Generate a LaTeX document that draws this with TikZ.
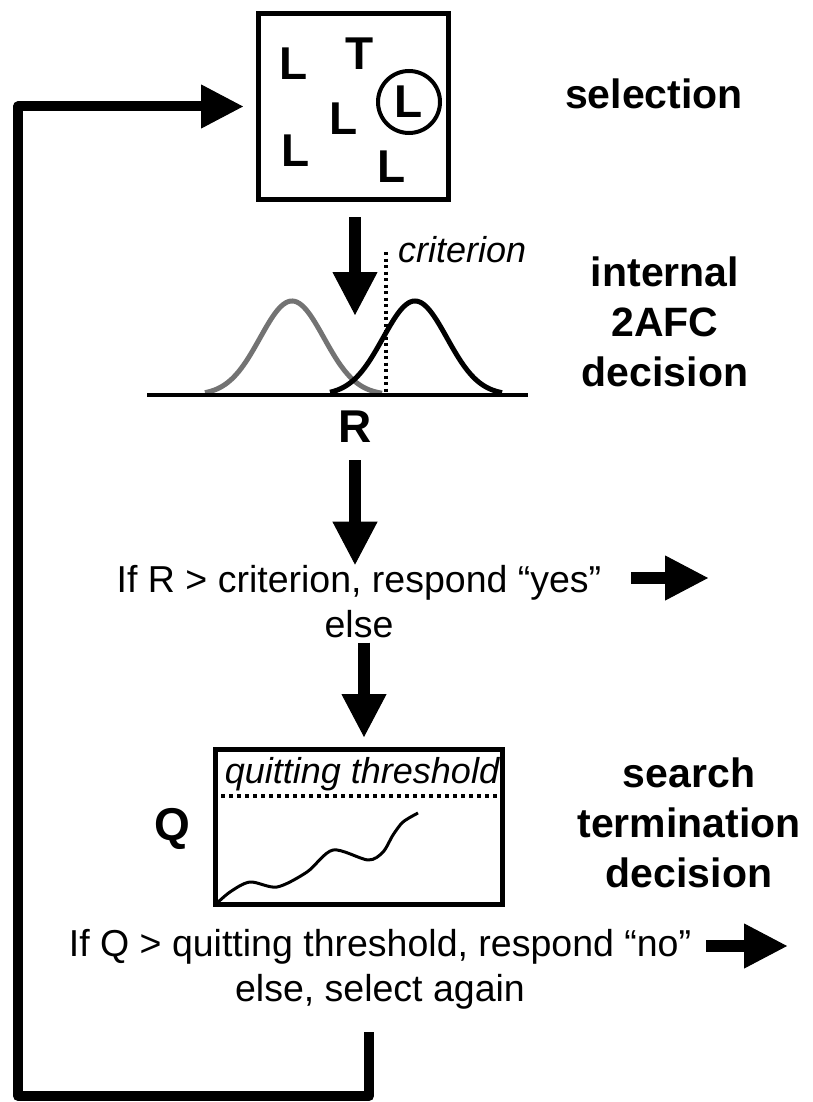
\documentclass[tikz,border=0pt]{standalone}
\usepackage{fontspec}
\setmainfont{Liberation Sans}
\usetikzlibrary{arrows.meta, positioning}

\newcommand{\markfont}{\fontsize{46}{50}\selectfont\bfseries}
\newcommand{\stagefont}{\fontsize{41}{50}\selectfont\bfseries}
\newcommand{\rulefont}{\fontsize{37.5}{45}\selectfont}
\newcommand{\notefont}{\fontsize{36}{40}\selectfont\itshape}

\begin{document}
\begin{tikzpicture}[
  x=1pt, y=-1pt,
  frame/.style={draw, line width=5pt, inner sep=0pt},
  letter/.style={inner sep=0pt, font=\markfont},
  stage/.style={align=center, inner sep=0pt, anchor=base, font=\stagefont},
  rule/.style={align=center, inner sep=0pt, anchor=base, font=\rulefont},
  note/.style={inner sep=0pt, anchor=base west, font=\notefont},
  flow/.style={line width=12pt, -{Triangle[length=43pt, width=45pt, line width=1pt]}},
  loopline/.style={line width=10pt, line join=round, -{Triangle[length=42pt, width=44pt, line width=1pt]}},
  dots/.style={line width=3.5pt, dash pattern=on 3pt off 3.5pt}
]
  \useasboundingbox (0,0) rectangle (812,1102);

  \node[frame, minimum width=190pt, minimum height=186pt] (sel) at (353.5,106.5) {};
  \node[letter] (l1) at (294,64) {L};
  \node[letter] (t1) at (360,54) {T};
  \node[letter, draw, circle, line width=4pt, minimum size=62pt] (pick) at (409,102) {L};
  \node[letter] (l3) at (344,119) {L};
  \node[letter] (l4) at (296,151) {L};
  \node[letter] (l5) at (392,167) {L};
  \node[stage] (sellab) at (654,109) {selection};

  \draw[line width=5pt, black!55, domain=205:382, samples=80] plot (\x, {395-94*exp(((\x-292)^2)/(-2048))});
  \draw[line width=5pt, domain=330:502, samples=80] plot (\x, {395-94*exp(((\x-415)^2)/(-2048))});
  \draw[dots] (386,252) -- (386,395);
  \draw[line width=4.5pt] (147,395) -- (528,395);
  \node[note] (crit) at (398,262) {criterion};
  \coordinate (dist) at (355,315);
  \draw[flow, shorten <=15pt] (sel.south -| dist) -- (dist);
  \node[stage] (declab) at (665,386) {internal\\2AFC\\decision};
  \node[letter] (R) at (355,427) {R};

  \node[rule] (yesrule) at (359,637) {If R > criterion, respond “yes”\\else};
  \draw[flow, shorten <=17pt] (R.south) -- (R.south |- yesrule.north);
  \coordinate (yes) at (708,578);
  \draw[flow] ([xshift=30pt]yesrule.east |- yes) -- (yes);

  \node[frame, minimum width=287pt, minimum height=155pt] (qbox) at (359,827) {};
  \coordinate (thr) at (0,796);
  \draw[dots, line width=4pt, dash pattern=on 3.5pt off 4.5pt] (qbox.west |- thr) -- (qbox.east |- thr);
  \node[note, anchor=base] (thrlab) at (362,783) {quitting threshold};
  \draw[line width=3pt, line join=round] plot[smooth, tension=0.5] coordinates {(215,905) (230,892) (250,882) (277,887) (307,872) (333,850) (368,860) (383,852) (393,835) (403,822) (418,813)};
  \node[letter] (Q) at (172,829) {Q};
  \draw[flow, shorten <=5pt, shorten >=10pt] ([xshift=5pt]qbox.north |- yesrule.south) -- ([xshift=5pt]qbox.north);
  \node[stage] (termlab) at (689,887) {search\\termination\\decision};

  \node[rule] (norule) at (380,1001) {If Q > quitting threshold, respond “no”\\else, select again};
  \coordinate (no) at (787,946);
  \draw[flow] ([xshift=15pt]norule.east |- no) -- (no);
  \coordinate (back) at (369,1032);
  \coordinate (corner) at (18,1096);
  \draw[loopline, shorten >=13pt] (back) |- (corner) |- (sel.west);
\end{tikzpicture}
\end{document}
